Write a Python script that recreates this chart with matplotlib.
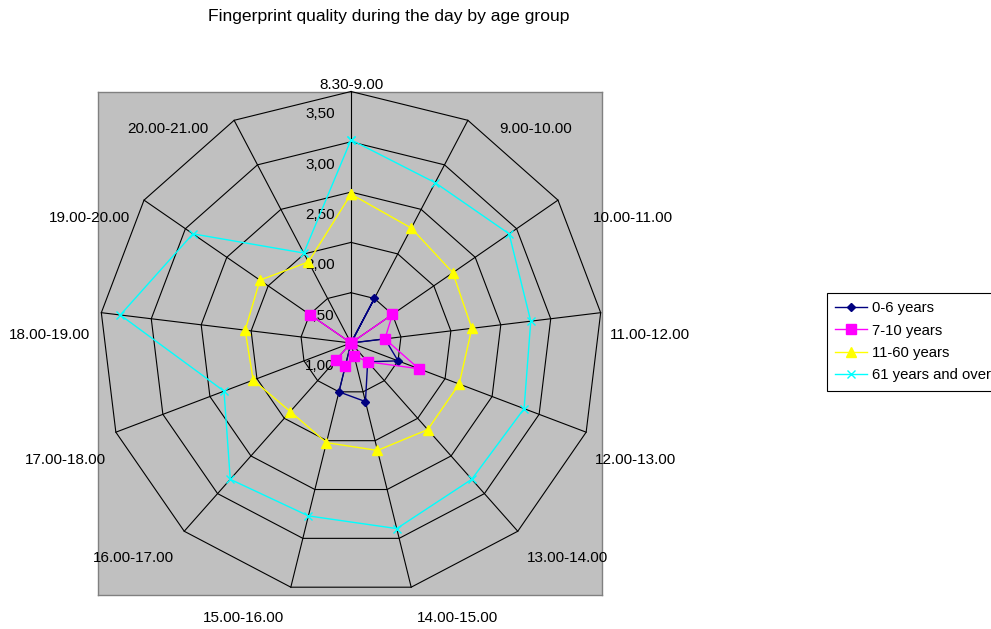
import numpy as np
import matplotlib
matplotlib.use("Agg")
import matplotlib.pyplot as plt
from matplotlib.transforms import offset_copy

plt.rcParams['font.family'] = ['Liberation Sans', 'DejaVu Sans']

# ---- data -------------------------------------------------------------
categories = ['8.30-9.00', '9.00-10.00', '10.00-11.00', '11.00-12.00',
              '12.00-13.00', '13.00-14.00', '14.00-15.00', '15.00-16.00',
              '16.00-17.00', '17.00-18.00', '18.00-19.00', '19.00-20.00',
              '20.00-21.00']
series_names = ['0-6 years', '7-10 years', '11-60 years', '61 years and over']
age_0_6 = [1.00, 1.50, 1.00, 1.34, 1.50, 1.25, 1.60, 1.50, 1.00, 1.00, 0.50, 0.00, 1.00]
age_7_10 = [1.00, 1.00, 1.50, 1.34, 1.72, 1.25, 1.13, 1.24, 1.23, 1.00, 0.88, 1.49, 1.00]
age_11_60 = [2.48, 2.29, 2.23, 2.21, 2.15, 2.15, 2.10, 2.02, 1.91, 2.04, 2.06, 2.10, 1.91]
age_61_up = [3.02, 2.80, 2.91, 2.80, 2.84, 2.81, 2.90, 2.77, 2.81, 2.35, 3.31, 2.91, 2.01]
r_ticks = [1.0, 1.5, 2.0, 2.5, 3.0, 3.5]
r_tick_labels = ['1,00', '1,50', '2,00', '2,50', '3,00', '3,50']

# ---- layout -----------------------------------------------------------
W, H = 991, 629
fig = plt.figure(figsize=(W / 100, H / 100), dpi=100)
fig.patch.set_facecolor('white')

def fx(x):
    return x / W

def fy(y):
    return 1 - y / H

# grey plot area
bg = fig.add_axes([fx(98), fy(595), (602 - 98) / W, (595 - 92) / H])
bg.set_facecolor('#C0C0C0')
bg.set_xticks([])
bg.set_yticks([])
for s in bg.spines.values():
    s.set_color('#808080')
    s.set_linewidth(1.0)

# radar axes
cx, cy, R = 351, 343, 251.5
ax = fig.add_axes([fx(cx - R), fy(cy + R), 2 * R / W, 2 * R / H], projection='polar')
ax.set_theta_zero_location('N')
ax.set_theta_direction(-1)
ax.set_ylim(r_ticks[0], r_ticks[-1])
ax.axis('off')

theta = np.arange(len(categories)) * 2 * np.pi / len(categories)
theta_c = np.append(theta, theta[0])

# polygon grid
for v in r_ticks[1:]:
    ax.plot(theta_c, [v] * len(theta_c), color='black', lw=0.8, clip_on=False, zorder=1)
for t in theta:
    ax.plot([t, t], [r_ticks[0], r_ticks[-1]], color='black', lw=0.8, clip_on=False, zorder=1)

# radial value labels
lab_tr = offset_copy(ax.transData, fig=fig, x=-16, y=-23, units='dots')
for v, lab in zip(r_ticks, r_tick_labels):
    ax.text(0, v, lab, transform=lab_tr, ha='right', va='center', fontsize=11,
            color='black', zorder=2)

# series
styles = [
    dict(color='#000080', marker='D', ms=4.5),
    dict(color='#FF00FF', marker='s', ms=7),
    dict(color='#FFFF00', marker='^', ms=7),
    dict(color='#00FFFF', marker='x', ms=6, mew=1.0),
]
handles = []
for vals, name, st in zip([age_0_6, age_7_10, age_11_60, age_61_up], series_names, styles):
    h, = ax.plot(theta_c, list(vals) + [vals[0]], lw=1.0, label=name,
                 clip_on=False, zorder=3, **st)
    handles.append(h)

# category labels
cat_pos = [(351, 85), (536, 129), (633, 218), (650, 335), (635, 460),
           (567, 558), (457, 618), (244, 618), (133, 558), (65, 460),
           (50, 335), (89, 218), (168, 129)]
for lab, (x, y) in zip(categories, cat_pos):
    fig.text(fx(x), fy(y), lab, ha='center', va='center', fontsize=11)

# title
fig.text(fx(389), fy(17), 'Fingerprint quality during the day by age group',
         ha='center', va='center', fontsize=12.6)

# legend
leg = fig.legend(handles, series_names, loc='upper left',
                 bbox_to_anchor=(fx(827), fy(293)), frameon=True, fancybox=False,
                 edgecolor='black', framealpha=1, fontsize=10.7, handlelength=2.15,
                 handletextpad=0.3, labelspacing=0.565, borderpad=0.55,
                 borderaxespad=0)
leg.get_frame().set_linewidth(0.8)

fig.savefig('out.png', dpi=100, facecolor='white')
